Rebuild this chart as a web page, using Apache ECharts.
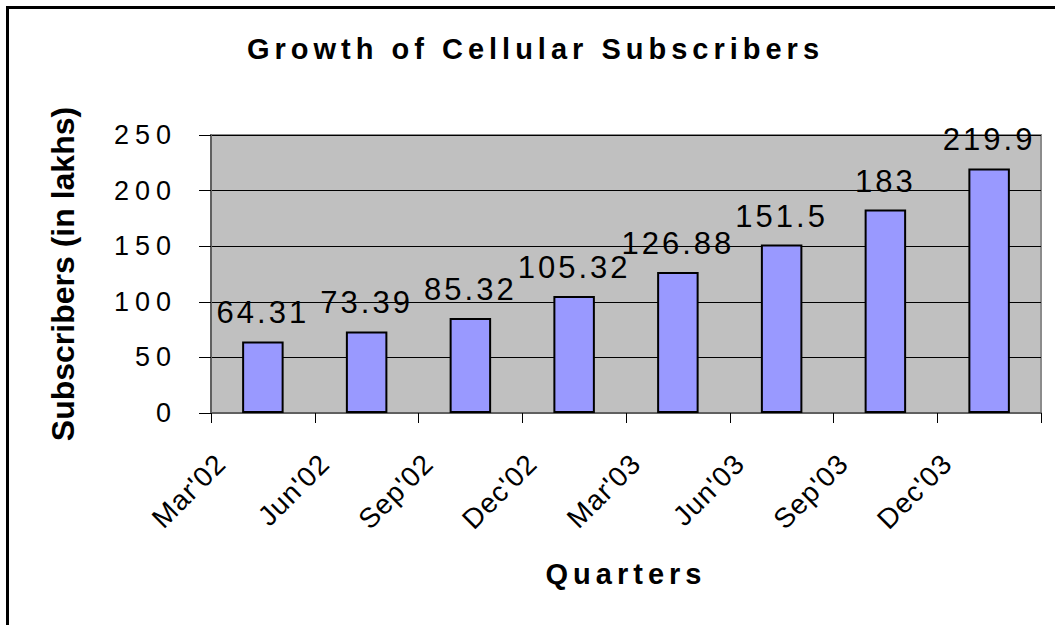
<!DOCTYPE html>
<html>
<head>
<meta charset="utf-8">
<title>Growth of Cellular Subscribers</title>
<script src="https://cdn.jsdelivr.net/npm/echarts@6/dist/echarts.min.js"></script>
<style>
  html, body { margin: 0; padding: 0; background: #fff; }
  #chart { position: absolute; left: 0; top: 0; width: 1055px; height: 625px; }
  .frame {
    position: absolute; left: 6px; top: 6px; width: 1060px; height: 640px;
    border-left: 3px solid #000; border-top: 3px solid #000;
    pointer-events: none;
  }
  /* excel-style wide letter spacing, picked per font size */
  #chart text[style*="29px"] { letter-spacing: 5px; }    /* title, x axis name */
  #chart text[style*="27px"] { letter-spacing: 6px; }    /* y tick labels */
  #chart text[style*="31px"] { letter-spacing: 3px; }    /* bar values */
  #chart text[style*="28px"] { letter-spacing: 1px; }    /* quarter labels */
</style>
</head>
<body>
<div id="chart"></div>
<div class="frame"></div>
<script>
const quarters = ['Mar\'02', 'Jun\'02', 'Sep\'02', 'Dec\'02', 'Mar\'03', 'Jun\'03', 'Sep\'03', 'Dec\'03']
const subscribers = [64.31, 73.39, 85.32, 105.32, 126.88, 151.5, 183, 219.9]
const yTicks = { min: 0, max: 250, interval: 50 }

const font = '"Liberation Sans", Arial, sans-serif'

// labels sit on the ticks between bars, so a second axis carries them
const tickLabels = quarters.concat([''])

const chart = echarts.init(document.getElementById('chart'), null, { renderer: 'svg' })

chart.setOption({
  backgroundColor: '#ffffff',
  animation: false,
  title: {
    text: 'Growth of Cellular Subscribers',
    left: 247,
    top: 34,
    padding: 0,
    textStyle: { fontFamily: font, fontSize: 29, fontWeight: 'bold', color: '#000' }
  },
  grid: {
    left: 211,
    top: 135,
    right: 14,
    bottom: 212,
    show: true,
    backgroundColor: '#c0c0c0',
    borderColor: '#8c8c8c',
    borderWidth: 2
  },
  xAxis: [
    {
      type: 'category',
      data: quarters,
      name: 'Quarters',
      nameLocation: 'middle',
      nameGap: 146,
      nameTextStyle: { fontFamily: font, fontSize: 29, fontWeight: 'bold', color: '#000' },
      axisLine: { show: true, lineStyle: { color: '#606060', width: 2 } },
      axisTick: { show: true, alignWithLabel: false, length: 10, lineStyle: { color: '#000', width: 1 } },
      axisLabel: { show: false }
    },
    {
      type: 'category',
      data: tickLabels,
      boundaryGap: false,
      position: 'bottom',
      axisLine: { show: false },
      axisTick: { show: false },
      axisLabel: {
        rotate: 45,
        margin: 36,
        verticalAlign: 'top',
        interval: 0,
        fontFamily: font,
        fontSize: 28,
        color: '#000'
      }
    }
  ],
  yAxis: {
    type: 'value',
    min: yTicks.min,
    max: yTicks.max,
    interval: yTicks.interval,
    name: 'Subscribers (in lakhs)',
    nameLocation: 'middle',
    nameGap: 132,
    nameTextStyle: { fontFamily: font, fontSize: 32, fontWeight: 'bold', color: '#000' },
    axisLine: { show: true, lineStyle: { color: '#606060', width: 2 } },
    axisTick: { show: true, length: 12, lineStyle: { color: '#000', width: 1 } },
    axisLabel: { margin: 34, fontFamily: font, fontSize: 27, color: '#000' },
    splitLine: { lineStyle: { color: '#000', width: 1 } }
  },
  series: [
    {
      type: 'bar',
      xAxisIndex: 0,
      data: subscribers,
      barWidth: '40%',
      itemStyle: { color: '#9999ff', borderColor: '#000', borderWidth: 2 },
      label: {
        show: true,
        position: 'top',
        distance: 13,
        fontFamily: font,
        fontSize: 31,
        color: '#000'
      }
    }
  ]
})
</script>
</body>
</html>
